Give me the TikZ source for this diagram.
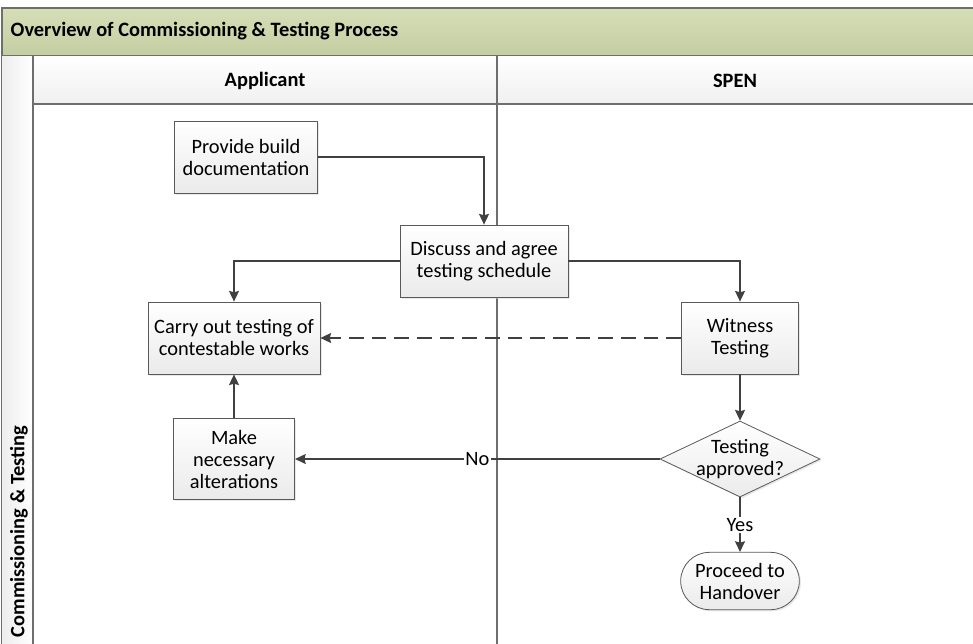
\documentclass[tikz,border=0pt]{standalone}
\usepackage{fontspec}
\setmainfont{Carlito}
\usetikzlibrary{arrows.meta,shapes.geometric,shapes.misc,shadows}

\definecolor{titlegreen}{RGB}{206,216,170}
\definecolor{linegray}{RGB}{64,64,64}
\definecolor{lanegray}{RGB}{110,110,110}

\tikzset{
  flow/.style={draw=linegray, line width=1.1pt, -{Stealth[length=8pt,width=7.5pt,inset=1pt]}},
  proc/.style={rectangle, draw=gray!70!black, line width=0.6pt, top color=white, bottom color=gray!16,
    drop shadow={shadow xshift=1.2pt, shadow yshift=-1.2pt, fill=gray!35},
    minimum height=54pt, align=center, inner sep=2pt},
  decide/.style={diamond, draw=gray!70!black, line width=0.6pt, top color=white, bottom color=gray!16,
    drop shadow={shadow xshift=1.2pt, shadow yshift=-1.2pt, fill=gray!35},
    minimum width=120pt, minimum height=57pt, inner sep=0pt},
  term/.style={rounded rectangle, draw=gray!70!black, line width=0.6pt, top color=white, bottom color=gray!16,
    drop shadow={shadow xshift=1.2pt, shadow yshift=-1.2pt, fill=gray!35},
    minimum width=91pt, minimum height=43pt, align=center, inner sep=1pt},
  lbl/.style={fill=white, inner sep=1pt},
  head/.style={font=\fontsize{15.3}{17}\selectfont\bfseries}
}

\begin{document}
\begin{tikzpicture}[x=0.75pt, y=-0.75pt, font=\fontsize{15.3}{16.5}\selectfont]
  \useasboundingbox (0,0) rectangle (973,643);
  \clip (0,0) rectangle (973,643);

  % pool and lanes
  \shade[top color=titlegreen!85!white, bottom color=titlegreen!95!black] (2,8) rectangle (990,56);
  \draw[lanegray, line width=1.1pt] (990,8) -- (2,8) -- (2,660);
  \draw[lanegray, line width=1.1pt] (2,56) -- (990,56);
  \shade[left color=gray!14, right color=white] (2,56) rectangle (33,660);
  \shade[top color=white, bottom color=gray!12] (33,56) rectangle (990,104);
  \draw[lanegray, line width=1.1pt] (33,56) -- (33,660);
  \draw[lanegray, line width=1.1pt] (33,104) -- (990,104);
  \draw[lanegray, line width=1.1pt] (497,56) -- (497,660);

  \node[head, anchor=west] (title) at (6,31) {Overview of Commissioning \& Testing Process};
  \node[head] (applicant) at (265,81) {Applicant};
  \node[head] (spen) at (735,81) {SPEN};
  \node[head, rotate=90, anchor=west] (phase) at (19,642) {Commissioning \& Testing};

  % steps
  \node[proc, minimum width=107pt] (prov) at (246,157) {Provide build\\documentation};
  \node[proc, minimum width=126pt] (disc) at (484,261) {Discuss and agree\\testing schedule};
  \node[proc, minimum width=129pt] (carry) at (234,338) {Carry out testing of\\contestable works};
  \node[proc, minimum width=88pt] (wit) at (740,338) {Witness\\Testing};
  \node[proc, minimum width=91pt, minimum height=61pt] (make) at (234,459) {Make\\necessary\\alterations};
  \node[decide] (dec) at (740,459) {};
  \node[align=center] (dectext) at (dec) {Testing\\approved?};
  \node[term] (hand) at (740,581) {Proceed to\\Handover};

  % connectors
  \draw[flow] (prov.east) -| (disc.north);
  \draw[flow] (disc.west) -| (carry.north);
  \draw[flow] (disc.east) -| (wit.north);
  \draw[flow, dash pattern=on 11pt off 6pt] (wit.west) -- (carry.east);
  \foreach \from/\to in {wit.south/dec.north, make.north/carry.south}
    \draw[flow] (\from) -- (\to);
  \draw[flow] (dec.west) -- node[lbl] (no) {No} (make.east);
  \draw[flow] (dec.south) -- node[lbl] (yes) {Yes} (hand.north);
\end{tikzpicture}
\end{document}
